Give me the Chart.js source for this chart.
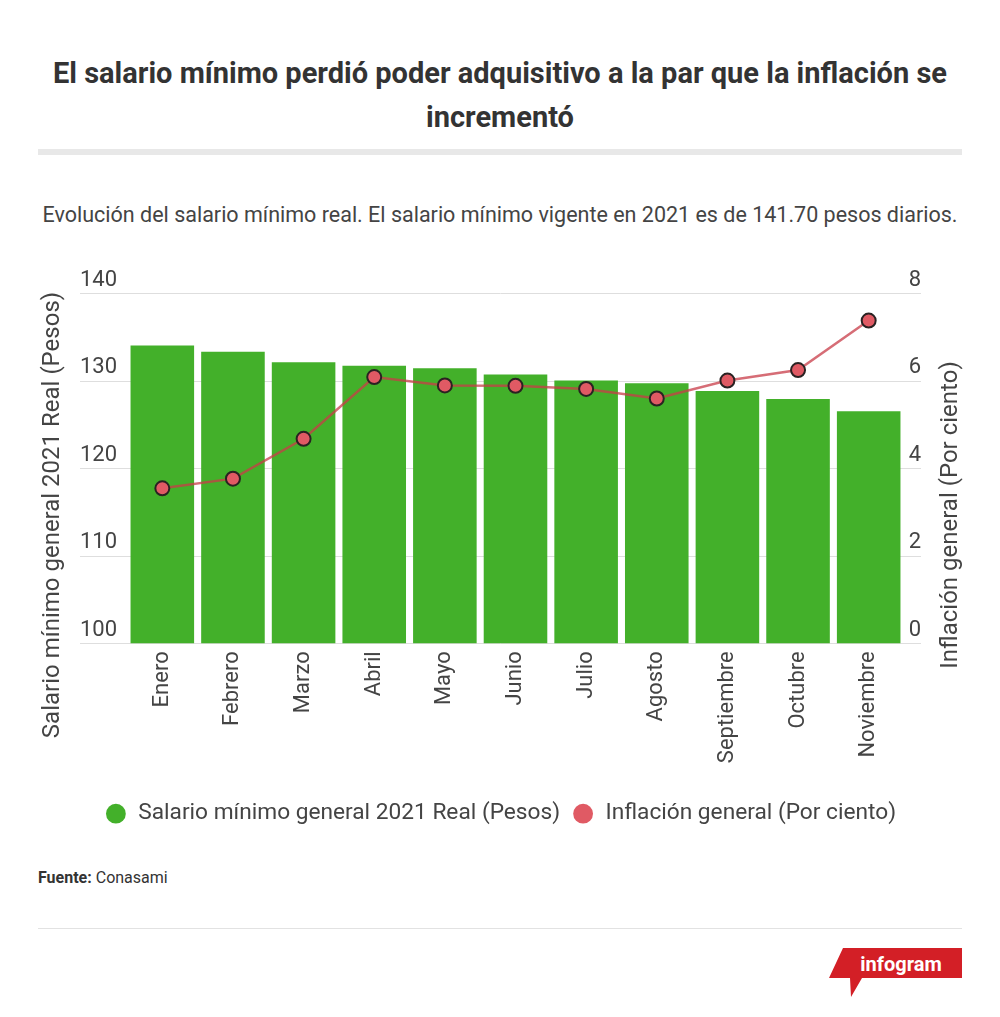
<!DOCTYPE html>
<html lang="es">
<head>
  <meta charset="UTF-8" />
  <title>Salario mínimo real e inflación</title>
  <script src="https://cdn.jsdelivr.net/npm/chart.js"></script>
  <style>
    body {
      margin: 0;
      background: #fff;
      font-family: Roboto, Arial, sans-serif;
      color: #333;
    }
    .page {
      position: relative;
      width: 1000px;
      height: 1017px;
    }
    h1 {
      position: absolute;
      top: 51px;
      left: 30px;
      width: 940px;
      margin: 0;
      text-align: center;
      font-size: 29px;
      line-height: 44px;
      font-weight: 700;
      color: #333;
    }
    .rule {
      position: absolute;
      top: 149px;
      left: 38px;
      width: 924px;
      height: 6px;
      background: #e8e8e8;
    }
    .subtitle {
      position: absolute;
      top: 202px;
      left: 20px;
      width: 960px;
      text-align: center;
      font-size: 21.5px;
      color: #444;
    }
    .chart-box {
      position: absolute;
      top: 255px;
      left: 0;
      width: 1000px;
      height: 600px;
    }
    .source {
      position: absolute;
      top: 868px;
      left: 38px;
      font-size: 16px;
      color: #333;
    }
    .line {
      position: absolute;
      top: 928px;
      left: 38px;
      width: 924px;
      height: 1px;
      background: #e2e2e2;
    }
    .logo {
      position: absolute;
      top: 946px;
      left: 824px;
    }
  </style>
</head>
<body>
  <div class="page">
    <h1>El salario mínimo perdió poder adquisitivo a la par que la inflación se incrementó</h1>
    <div class="rule"></div>
    <div class="subtitle">Evolución del salario mínimo real. El salario mínimo vigente en 2021 es de 141.70 pesos diarios.</div>
    <div class="chart-box"><canvas id="chart"></canvas></div>
    <div class="source"><b>Fuente:</b> Conasami</div>
    <div class="line"></div>
    <svg class="logo" width="140" height="54" viewBox="0 0 140 54">
      <polygon points="19,2 138,2 138,32 38,32 27,51 26,32 5,32" fill="#d31f26" />
      <text x="77" y="25" text-anchor="middle" font-family="Roboto, Arial, sans-serif" font-size="20" font-weight="700" fill="#fff">infogram</text>
    </svg>
  </div>

  <script>
    const months = ['Enero', 'Febrero', 'Marzo', 'Abril', 'Mayo', 'Junio', 'Julio', 'Agosto', 'Septiembre', 'Octubre', 'Noviembre'];
    const salarioReal = [134.0, 133.3, 132.1, 131.7, 131.4, 130.7, 130.0, 129.7, 128.8, 127.9, 126.5];
    const inflacion = [3.54, 3.76, 4.67, 6.08, 5.89, 5.88, 5.81, 5.59, 6.00, 6.24, 7.37];
    const salarioTicks = [100, 110, 120, 130, 140];
    const inflacionTicks = [0, 2, 4, 6, 8];

    const labelSalario = 'Salario mínimo general 2021 Real (Pesos)';
    const labelInflacion = 'Inflación general (Por ciento)';

    // grid lines run under the tick labels, from the left axis to the right one
    const wideGrid = {
      id: 'wideGrid',
      beforeDatasetsDraw(chart) {
        const { ctx, scales } = chart;
        const y = scales.y, y1 = scales.y1;
        ctx.save();
        ctx.strokeStyle = '#dedede';
        ctx.lineWidth = 1;
        salarioTicks.forEach(v => {
          const py = Math.round(y.getPixelForValue(v)) + 0.5;
          ctx.beginPath();
          ctx.moveTo(y.left, py);
          ctx.lineTo(y1.right, py);
          ctx.stroke();
        });
        ctx.restore();
      }
    };

    // rotated axis titles, both reading bottom to top
    const axisTitles = {
      id: 'axisTitles',
      afterDraw(chart) {
        const { ctx, scales, chartArea } = chart;
        const cy = chartArea.top + 222;
        ctx.save();
        ctx.fillStyle = '#444';
        ctx.font = '24px Roboto, Arial, sans-serif';
        ctx.textAlign = 'center';
        ctx.textBaseline = 'middle';
        [[scales.y.left - 27, labelSalario], [scales.y1.right + 30, labelInflacion]].forEach(([x, t]) => {
          ctx.save();
          ctx.translate(x, cy);
          ctx.rotate(-Math.PI / 2);
          ctx.fillText(t, 0, 0);
          ctx.restore();
        });
        ctx.restore();
      }
    };

    new Chart(document.getElementById('chart'), {
      data: {
        labels: months,
        datasets: [
          {
            type: 'line',
            label: labelInflacion,
            data: inflacion,
            yAxisID: 'y1',
            order: 0,
            borderColor: 'rgba(200, 60, 72, 0.75)',
            borderWidth: 2.5,
            pointRadius: 7,
            pointHoverRadius: 7,
            pointBackgroundColor: '#e05a64',
            pointBorderColor: '#2a2222',
            pointBorderWidth: 2,
            tension: 0
          },
          {
            type: 'bar',
            label: labelSalario,
            data: salarioReal,
            yAxisID: 'y',
            order: 1,
            backgroundColor: '#43b02a',
            categoryPercentage: 1,
            barPercentage: 0.9
          }
        ]
      },
      options: {
        responsive: true,
        maintainAspectRatio: false,
        animation: false,
        layout: { padding: { top: 38, left: 80, right: 79, bottom: 20 } },
        plugins: {
          tooltip: { enabled: false },
          legend: {
            position: 'bottom',
            reverse: true,
            labels: {
              usePointStyle: true,
              pointStyle: 'circle',
              boxWidth: 22,
              boxHeight: 14,
              padding: 12,
              color: '#444',
              font: { family: 'Roboto', size: 22.7 },
              generateLabels(chart) {
                return Chart.defaults.plugins.legend.labels.generateLabels(chart).map(l => {
                  l.fillStyle = l.datasetIndex === 0 ? '#e05a64' : l.fillStyle;
                  l.strokeStyle = l.fillStyle;
                  l.lineWidth = 0;
                  l.pointStyle = 'circle';
                  return l;
                });
              }
            }
          }
        },
        scales: {
          x: {
            grid: { display: false },
            border: { display: false },
            ticks: {
              minRotation: 90,
              maxRotation: 90,
              padding: 0,
              color: '#444',
              font: { family: 'Roboto', size: 22 }
            },
            afterFit(s) { s.height = 147; }
          },
          y: {
            position: 'left',
            min: 100,
            max: 140,
            grid: { display: false },
            border: { display: false },
            afterBuildTicks(s) { s.ticks = salarioTicks.map(v => ({ value: v })); },
            ticks: {
              crossAlign: 'far',
              labelOffset: -13,
              color: '#444',
              font: { family: 'Roboto', size: 22 }
            },
            afterFit(s) { s.width = 47; }
          },
          y1: {
            position: 'right',
            min: 0,
            max: 8,
            grid: { display: false },
            border: { display: false },
            afterBuildTicks(s) { s.ticks = inflacionTicks.map(v => ({ value: v })); },
            ticks: {
              crossAlign: 'far',
              labelOffset: -13,
              color: '#444',
              font: { family: 'Roboto', size: 22 }
            },
            afterFit(s) { s.width = 17; }
          }
        }
      },
      plugins: [wideGrid, axisTitles]
    });
  </script>
</body>
</html>
